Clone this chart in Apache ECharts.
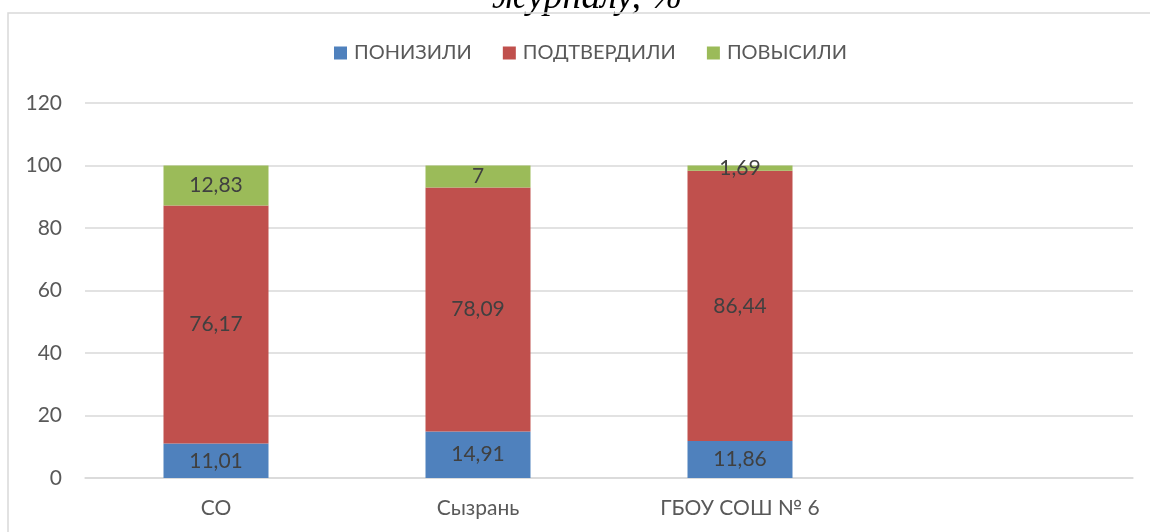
<!DOCTYPE html>
<html>
<head>
<meta charset="utf-8">
<script src="https://cdn.jsdelivr.net/npm/echarts@6/dist/echarts.min.js"></script>
<style>
  html, body { margin: 0; padding: 0; background: #fff; }
  #chart { width: 1150px; height: 532px; }
</style>
</head>
<body>
<div id="chart"></div>
<script>
  var categories = ['СО', 'Сызрань', 'ГБОУ СОШ № 6', ''];
  var lowered = [11.01, 14.91, 11.86, null];
  var confirmed = [76.17, 78.09, 86.44, null];
  var raised = [12.83, 7, 1.69, null];
  var yTicks = { min: 0, max: 120, interval: 20 };

  var font = 'Lato, "Open Sans", sans-serif';

  function fmt(p) {
    return String(p.value).replace('.', ',');
  }

  function bar(name, data, color) {
    return {
      name: name,
      type: 'bar',
      stack: 'total',
      barWidth: 105,
      data: data,
      itemStyle: { color: color },
      label: {
        show: true,
        position: 'inside',
        formatter: fmt,
        fontFamily: font,
        fontSize: 21,
        color: '#404040'
      }
    };
  }

  var chart = echarts.init(document.getElementById('chart'));
  chart.setOption({
    animation: false,
    textStyle: { fontFamily: font },
    graphic: [
      {
        type: 'text',
        x: 587,
        y: 17,
        style: {
          text: 'журналу, %',
          font: 'italic 38px "Liberation Serif", "Times New Roman", serif',
          fill: '#000',
          align: 'center',
          verticalAlign: 'bottom'
        }
      },
      {
        type: 'polyline',
        shape: { points: [[8, 532], [8, 13], [1150, 13]] },
        style: { stroke: '#d9d9d9', lineWidth: 1.5, fill: null }
      }
    ],
    legend: {
      left: 329,
      top: 38,
      itemWidth: 13,
      itemHeight: 13,
      itemGap: 31,
      icon: 'rect',
      textStyle: { fontSize: 20, color: '#595959', fontFamily: font, padding: [0, 0, 0, 2] },
      data: ['ПОНИЗИЛИ', 'ПОДТВЕРДИЛИ', 'ПОВЫСИЛИ']
    },
    grid: { left: 85, right: 17, top: 103, bottom: 54 },
    xAxis: {
      type: 'category',
      data: categories,
      axisLine: { lineStyle: { color: '#d9d9d9', width: 1.5 } },
      axisTick: { show: false },
      axisLabel: { fontSize: 21, color: '#595959', margin: 20 }
    },
    yAxis: {
      type: 'value',
      min: yTicks.min,
      max: yTicks.max,
      interval: yTicks.interval,
      axisLine: { show: false },
      axisTick: { show: false },
      axisLabel: { fontSize: 21, color: '#595959', margin: 23 },
      splitLine: { lineStyle: { color: '#d9d9d9', width: 1.5 } }
    },
    series: [
      bar('ПОНИЗИЛИ', lowered, '#4f81bd'),
      bar('ПОДТВЕРДИЛИ', confirmed, '#c0504d'),
      bar('ПОВЫСИЛИ', raised, '#9bbb59')
    ]
  });
</script>
</body>
</html>
